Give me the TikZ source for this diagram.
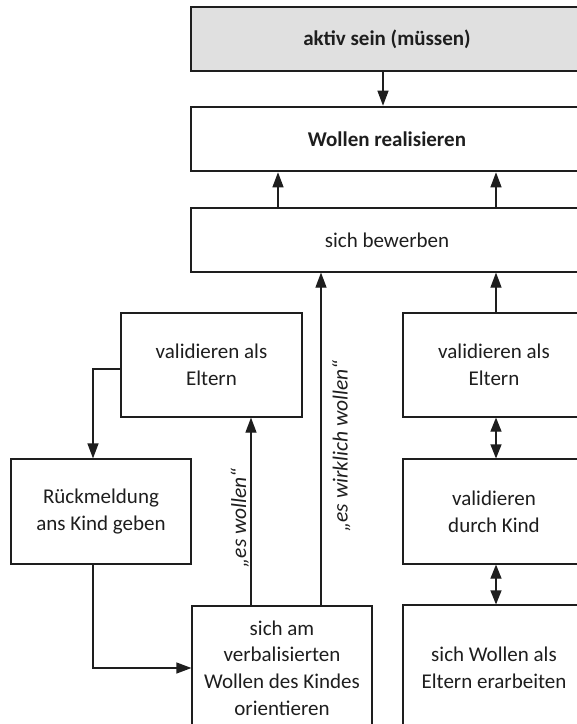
\documentclass[tikz,border=0pt]{standalone}
\usepackage{fontspec}
\setmainfont{Carlito}
\usetikzlibrary{arrows.meta,calc}
\definecolor{boxgray}{RGB}{224,224,224}
\definecolor{ink}{RGB}{30,30,30}
\begin{document}
\begin{tikzpicture}[x=1pt,y=-1pt,
  font=\fontsize{21}{26.7}\selectfont,
  box/.style={draw=ink,line width=1.2pt,rectangle,inner sep=0pt,align=center,text=ink},
  thickbox/.style={box,line width=2.6pt},
  arr/.style={draw=ink,line width=1.2pt,-{Triangle[length=15pt,width=11pt]}},
  darr/.style={draw=ink,line width=1.2pt,{Triangle[length=14pt,width=11pt]}-{Triangle[length=14pt,width=11pt]}},
  lbl/.style={font=\fontsize{21.5}{24}\selectfont\itshape,text=ink,rotate=90,inner sep=0pt}]
\clip (0,0) rectangle (577,724);
\fill[white] (0,0) rectangle (577,724);
% x reference coordinates
\coordinate (xA) at (383,0);
\coordinate (xB) at (278,0);
\coordinate (xC) at (496,0);
\coordinate (xD) at (321,0);
\coordinate (xE) at (251,0);
\coordinate (xF) at (93,0);
% nodes
\node[thickbox,fill=boxgray,minimum width=392pt,minimum height=64pt] (top) at (387,39) {\bfseries aktiv sein (müssen)};
\node[thickbox,minimum width=392pt,minimum height=64pt] (wol) at (387,139) {\bfseries Wollen realisieren};
\node[box,minimum width=392pt,minimum height=64pt] (bew) at (387,240) {sich bewerben};
\node[box,minimum width=181pt,minimum height=104pt] (valL) at (211.5,365) {validieren als\\Eltern};
\node[box,minimum width=180pt,minimum height=105pt] (rueck) at (101,511.5) {Rückmeldung\\ans Kind geben};
\node[box,minimum width=180pt,minimum height=124pt] (orient) at (282,668) {sich am\\verbalisierten\\Wollen des Kindes\\orientieren};
\node[box,minimum width=182pt,minimum height=104pt] (valR) at (494,365) {validieren als\\Eltern};
\node[box,minimum width=182pt,minimum height=105pt] (valK) at (494,511.5) {validieren\\durch Kind};
\node[box,minimum width=182pt,minimum height=126pt] (erarb) at (494,668) {sich Wollen als\\Eltern erarbeiten};
% connectors
\draw[arr] (top.south -| xA) -- (wol.north -| xA);
\draw[arr] (bew.north -| xB) -- (wol.south -| xB);
\draw[arr] (bew.north -| xC) -- (wol.south -| xC);
\draw[arr] (orient.north -| xD) -- (bew.south -| xD);
\draw[arr] (orient.north -| xE) -- (valL.south -| xE);
\draw[arr] ($(valL.west)+(0,4)$) -| (rueck.north -| xF);
\draw[arr] (rueck.south -| xF) |- (orient.west);
\draw[arr] (valR.north -| xC) -- (bew.south -| xC);
\draw[darr] (valR.south -| xC) -- (valK.north -| xC);
\draw[darr] (valK.south -| xC) -- (erarb.north -| xC);
% labels
\node[lbl,anchor=base] (l1) at (246,518) {„es wollen“};
\node[lbl,anchor=north] (l2) at (332,446) {„es wirklich wollen“};
\end{tikzpicture}
\end{document}
